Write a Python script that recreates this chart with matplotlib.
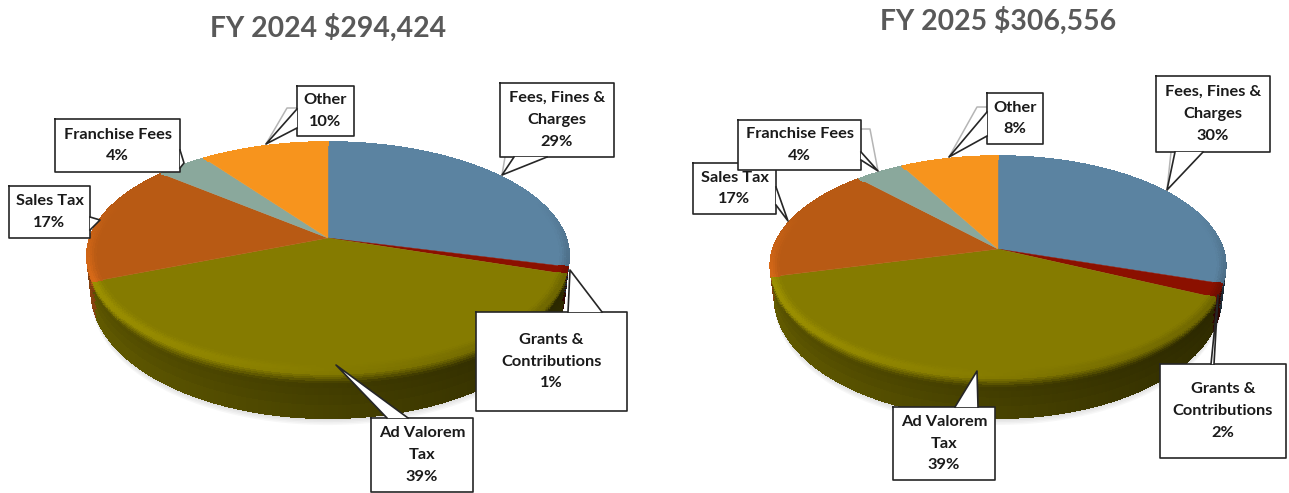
import numpy as np
import matplotlib.pyplot as plt
from matplotlib.collections import PolyCollection
from matplotlib.colors import to_rgb

categories = ["Fees, Fines &\nCharges", "Grants &\nContributions", "Ad Valorem\nTax",
              "Sales Tax", "Franchise Fees", "Other"]
values_2024 = [29, 1, 39, 17, 4, 10]
values_2025 = [30, 2, 39, 17, 4, 8]
title_2024 = "FY 2024 $294,424"
title_2025 = "FY 2025 $306,556"
colors = ["#5b83a1", "#8b1000", "#857b00", "#b85a14", "#8aa89c", "#f7941d"]

plt.rcParams['font.family'] = ['Lato', 'DejaVu Sans']

fig = plt.figure(figsize=(12.89, 4.93), dpi=100)
ax = fig.add_axes([0, 0, 1, 1])
ax.set_xlim(0, 1289)
ax.set_ylim(493, 0)
ax.axis('off')


# круг -> экран (простая перспектива), t по часовой от 12 часов
def project(t, r, geo):
    u = r*np.sin(t)
    v = r*np.cos(t)
    den = 1 + geo['p']*v
    return geo['cx'] + geo['C']*u/den, geo['cy'] - geo['A']*v/den


def side_point(t, f, geo):
    # f - доля глубины бока: 0 у кромки, 1 внизу
    x, y = project(t, 1.0, geo)
    v = np.cos(t)
    off = geo['d']*(0.67 - 0.33*v)
    return geo['cx'] + (x - geo['cx'])*(1 - 0.018*f), y + off*f


def draw_pie(values, geo):
    fr = np.cumsum([0] + values)/sum(values)
    edges = 2*np.pi*fr
    # тень
    tt = np.linspace(np.pi/2, 3*np.pi/2, 120)
    for k in range(5):
        x, y = side_point(tt, 1.0, geo)
        ax.fill(x, y + 1.5*k + 1, color='#808080', alpha=0.06, lw=0, zorder=1)

    polys, cols, ring, ring_cols = [], [], [], []
    fs = np.array([0, .04, .08, .12, .16, .2, .25, .3, .4, .55, .75, 1.0])
    for i in range(len(values)):
        base = np.array(to_rgb(colors[i]))
        n = max(int(values[i]*4), 3)
        ts = np.linspace(edges[i], edges[i+1], n+1)
        for a, b in zip(ts[:-1], ts[1:]):
            m = (a + b)/2
            u, v = np.sin(m), np.cos(m)
            hi = 1.2 - 0.2*(u + 1)
            body = 0.76 - 0.21*(u + 1)
            w = np.clip((0.35 - v)/0.7, 0, 1)
            if v < 0.1:
                for f0, f1 in zip(fs[:-1], fs[1:]):
                    fm = (f0 + f1)/2
                    k = np.interp(fm, [0, .1, .3, 1], [hi, hi*0.98, body*0.88, body])
                    xa0, ya0 = side_point(a, f0, geo)
                    xa1, ya1 = side_point(a, f1, geo)
                    xb0, yb0 = side_point(b, f0, geo)
                    xb1, yb1 = side_point(b, f1, geo)
                    polys.append([(xa0, ya0), (xb0, yb0), (xb1, yb1), (xa1, ya1)])
                    cols.append(np.clip(base*k, 0, 1))
            for r0, r1 in zip([.965, .975, .985, .993], [.975, .985, .993, 1.0]):
                rm = (r0 + r1)/2
                k = 1 + (hi - 1)*w*(rm - .965)/.035
                xa0, ya0 = project(a, r0, geo)
                xa1, ya1 = project(a, r1, geo)
                xb0, yb0 = project(b, r0, geo)
                xb1, yb1 = project(b, r1, geo)
                ring.append([(xa0, ya0), (xb0, yb0), (xb1, yb1), (xa1, ya1)])
                ring_cols.append(np.clip(base*k, 0, 1))

    # бок сзади наперёд, без сглаживания - иначе видна сетка на швах
    order = np.argsort([p[0][1] for p in polys])
    pc = PolyCollection([polys[j] for j in order], facecolors=[cols[j] for j in order],
                        edgecolors='face', linewidths=0.7, antialiaseds=False, zorder=2)
    ax.add_collection(pc)

    for i in range(len(values)):
        ts = np.linspace(edges[i], edges[i+1], 80)
        x, y = project(ts, 1.0, geo)
        ax.fill(np.r_[geo['cx'], x], np.r_[geo['cy'], y], color=colors[i], lw=0.3, zorder=3)
    pc2 = PolyCollection(ring, facecolors=ring_cols, edgecolors='face', linewidths=0.5,
                         antialiaseds=False, zorder=4)
    ax.add_collection(pc2)


def callout(text, box, tail, grey=None, z=6):
    x0, x1, y0, y1 = box
    if grey is not None:
        ax.plot(*zip(*grey), color='#b5b5b5', lw=1.1, zorder=z)
    # контур рамки с хвостиком
    pts = [(x0, y0), (x1, y0), (x1, y1), (x0, y1), (x0, y0)]
    ax.fill([p[0] for p in pts], [p[1] for p in pts], color='white', lw=0, zorder=z)
    ax.plot([p[0] for p in pts], [p[1] for p in pts], color='#262626', lw=1.2, zorder=z+1)
    ax.fill([p[0] for p in tail], [p[1] for p in tail], color='white', lw=0, zorder=z+1)
    ax.plot([p[0] for p in tail], [p[1] for p in tail], color='#262626', lw=1.2, zorder=z+2)
    ax.text((x0 + x1)/2, (y0 + y1)/2, text, ha='center', va='center', fontsize=11.8,
            fontweight='bold', color='#1a1a1a', linespacing=1.72, zorder=z+3)


def label(i, values):
    return categories[i] + "\n" + str(values[i]) + "%"


geo_2024 = {'cx': 328, 'cy': 238, 'A': 111.2, 'C': 238, 'p': 0.158, 'd': 48}
geo_2025 = {'cx': 998, 'cy': 249, 'A': 107.0, 'C': 225, 'p': 0.151, 'd': 43}

draw_pie(values_2024, geo_2024)
draw_pie(values_2025, geo_2025)

ax.text(328, 28, title_2024, ha='center', va='center', fontsize=20.4, fontweight='bold', color='#595959')
ax.text(998, 21, title_2025, ha='center', va='center', fontsize=20.4, fontweight='bold', color='#595959')

# FY 2024
callout(label(0, values_2024), (500, 614, 83, 157), [(514, 157), (502, 175), (547, 157)],
        grey=[(505, 157), (502, 175)])
callout(label(1, values_2024), (476, 627, 312, 411), [(568, 312), (570, 270), (602, 312)])
callout(label(2, values_2024), (371, 473, 418, 492), [(387, 418), (336, 365), (408, 418)])
callout(label(3, values_2024), (9, 90, 186, 238), [(90, 217), (100, 220), (90, 230)])
callout(label(4, values_2024), (55, 180, 119, 172), [(180, 150), (184, 163), (180, 168)])
callout(label(5, values_2024), (297, 354, 86, 136), [(297, 109), (266, 144), (297, 128)],
        grey=[(297, 108), (287, 108), (266, 144)])

# FY 2025
callout(label(0, values_2025), (1156, 1270, 76, 152), [(1175, 152), (1167, 190), (1203, 152)],
        grey=[(1171, 152), (1167, 190)])
callout(label(1, values_2025), (1160, 1286, 364, 458), [(1211, 364), (1218, 295), (1214, 364)])
callout(label(2, values_2025), (893, 995, 407, 480), [(955, 407), (977, 371), (978, 407)])
callout(label(3, values_2025), (693, 776, 163, 214), [(776, 187), (788, 221), (776, 205)])
callout(label(4, values_2025), (738, 861, 120, 170), [(861, 152), (878, 171), (861, 160)],
        grey=[(861, 129), (870, 129), (878, 171)], z=10)
callout(label(5, values_2025), (987, 1043, 93, 144), [(987, 112), (949, 157), (987, 136)],
        grey=[(987, 107), (977, 107), (949, 157)])

fig.savefig("out.png", dpi=100)
